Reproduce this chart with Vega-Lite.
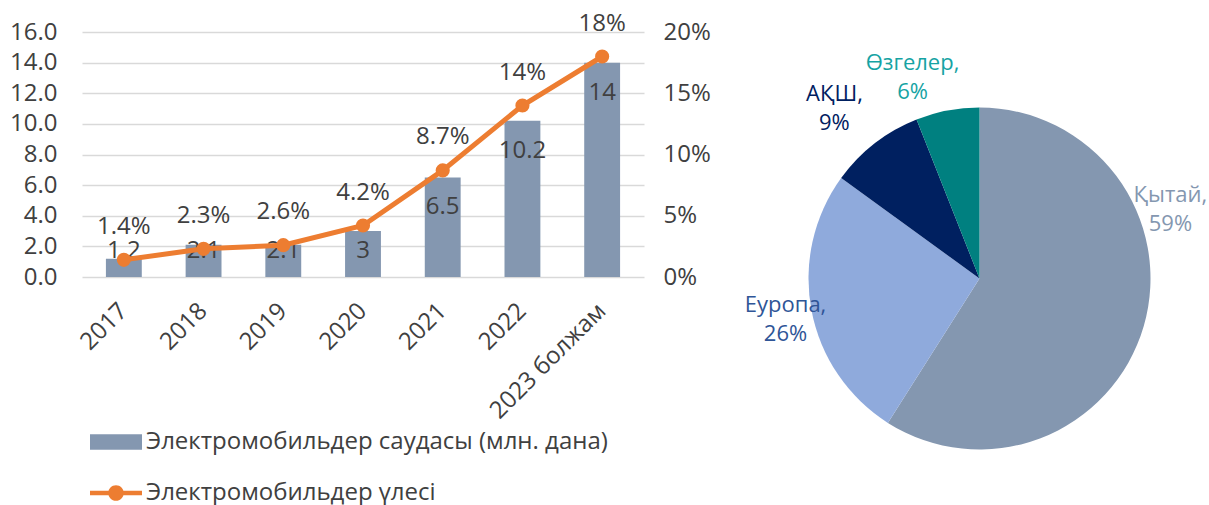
{
  "$schema": "https://vega.github.io/schema/vega-lite/v6.json",
  "background": "white",
  "padding": {"left": 9, "top": 11, "right": 0, "bottom": 0},
  "spacing": 30,
  "center": true,
  "config": {"view": {"stroke": null}, "font": "Open Sans", "axis": {"labelOverlap": false}},
  "resolve": {"scale": {"fill": "independent", "color": "independent"}},
  "hconcat": [
    {
      "width": 562,
      "height": 245,
      "data": {"values": [
        {"year": "2017", "sales": 1.2, "share": 0.014},
        {"year": "2018", "sales": 2.1, "share": 0.023},
        {"year": "2019", "sales": 2.1, "share": 0.026},
        {"year": "2020", "sales": 3, "share": 0.042},
        {"year": "2021", "sales": 6.5, "share": 0.087},
        {"year": "2022", "sales": 10.2, "share": 0.14},
        {"year": "2023 болжам", "sales": 14, "share": 0.18}
      ]},
      "encoding": {
        "x": {
          "field": "year", "type": "nominal", "sort": null,
          "scale": {"paddingInner": 0.55, "paddingOuter": 0.3},
          "axis": {"title": null, "labelAngle": -45, "labelAlign": "right", "labelBaseline": "middle", "labelPadding": 30, "labelFontSize": 24, "labelColor": "#404040", "labelFont": "Open Sans", "labelLimit": 0, "domain": false, "ticks": false, "grid": false}
        }
      },
      "layer": [
        {
          "encoding": {
            "y": {"field": "sales", "type": "quantitative", "scale": {"domain": [0, 16]},
              "axis": {"title": null, "values": [0, 2, 4, 6, 8, 10, 12, 14, 16], "format": ".1f", "labelFontSize": 24, "labelColor": "#404040", "labelFont": "Open Sans", "labelPadding": 25, "labelOverlap": false, "domain": false, "ticks": false, "grid": true, "gridColor": "#D9D9D9", "gridWidth": 1.5}}
          },
          "layer": [
            {
              "mark": {"type": "bar"},
              "encoding": {
                "fill": {
                  "datum": "Электромобильдер саудасы (млн. дана)",
                  "scale": {"domain": ["Электромобильдер саудасы (млн. дана)", "Электромобильдер үлесі"], "range": ["#8497B0", "#ED7D31"]},
                  "legend": {
                    "orient": "none", "legendX": 8, "legendY": 384, "direction": "vertical", "title": null,
                    "symbolSize": 2704, "labelFontSize": 24, "labelColor": "#404040", "labelFont": "Open Sans", "labelLimit": 0,
                    "rowPadding": 13, "symbolStrokeWidth": 0, "labelOffset": 4, "padding": 0, "symbolOpacity": 1,
                    "encode": {"symbols": {"update": {"shape": {"signal": "datum.value === 'Электромобильдер үлесі' ? 'M-1,-0.09L1,-0.09L1,0.09L-1,0.09Z M-0.3,0A0.3,0.3 0 1,1 0.3,0A0.3,0.3 0 1,1 -0.3,0Z' : 'M-1,-0.3L1,-0.3L1,0.3L-1,0.3Z'"}}}}
                  }
                }
              }
            },
            {
              "transform": [{"filter": "datum.sales >= 6"}],
              "mark": {"type": "text", "dy": 30, "fontSize": 24, "color": "#404040", "font": "Open Sans"},
              "encoding": {
                "text": {"field": "sales", "type": "nominal"}
              }
            },
            {
              "transform": [{"filter": "datum.sales < 6"}],
              "mark": {"type": "text", "fontSize": 24, "color": "#404040", "font": "Open Sans", "baseline": "middle"},
              "encoding": {
                "y": {"datum": 1.7, "type": "quantitative", "scale": {"domain": [0, 16]},
                  "axis": {"title": null, "values": [0, 2, 4, 6, 8, 10, 12, 14, 16], "format": ".1f", "labelFontSize": 24, "labelColor": "#404040", "labelFont": "Open Sans", "labelPadding": 25, "labelOverlap": false, "domain": false, "ticks": false, "grid": true, "gridColor": "#D9D9D9", "gridWidth": 1.5}},
                "text": {"field": "sales", "type": "nominal"}
              }
            }
          ]
        },
        {
          "encoding": {
            "y": {"field": "share", "type": "quantitative", "scale": {"domain": [0, 0.2]},
              "axis": {"title": null, "orient": "right", "values": [0, 0.05, 0.1, 0.15, 0.2], "format": ".0%", "labelFontSize": 24, "labelColor": "#404040", "labelFont": "Open Sans", "labelPadding": 19, "labelOverlap": false, "domain": false, "ticks": false, "grid": false}}
          },
          "layer": [
            {
              "mark": {"type": "line", "color": "#ED7D31", "strokeWidth": 5}
            },
            {
              "mark": {"type": "point", "filled": true, "size": 200, "opacity": 1, "strokeWidth": 0, "shape": "circle"},
              "encoding": {
                "fill": {"datum": "Электромобильдер үлесі"}
              }
            },
            {
              "mark": {"type": "text", "dy": -33, "fontSize": 24, "color": "#404040", "font": "Open Sans"},
              "encoding": {
                "text": {"field": "share", "type": "quantitative", "format": ".1~%"}
              }
            }
          ]
        }
      ],
      "resolve": {"scale": {"y": "independent"}}
    },
    {
      "width": 460,
      "height": 460,
      "data": {"values": [
        {"region": "Қытай", "pct": 0.59},
        {"region": "Еуропа", "pct": 0.26},
        {"region": "АҚШ", "pct": 0.09},
        {"region": "Өзгелер", "pct": 0.06}
      ]},
      "transform": [{"calculate": "datum.region + ',\\n' + format(datum.pct, '.0%')", "as": "label"}],
      "layer": [
        {
          "mark": {"type": "arc", "radius": 171, "xOffset": 8.5, "yOffset": 10},
          "encoding": {
            "theta": {"field": "pct", "type": "quantitative", "stack": true},
            "order": {"field": "pct", "sort": "descending"},
            "color": {"field": "region", "type": "nominal",
              "scale": {"domain": ["Қытай", "Еуропа", "АҚШ", "Өзгелер"], "range": ["#8497B0", "#8FAADC", "#002060", "#008080"]},
              "legend": null}
          }
        },
        {
          "transform": [{"filter": "datum.region === 'Қытай'"}],
          "mark": {"type": "text", "theta": 1.224, "radius": 203, "xOffset": 8.5, "yOffset": 10, "dy": -14.5, "fontSize": 22, "lineBreak": "\n", "lineHeight": 29, "font": "Open Sans", "fill": "#8497B0"},
          "encoding": {
            "text": {"field": "label", "type": "nominal"}
          }
        },
        {
          "mark": {"type": "text", "radius": 200, "xOffset": 8.5, "yOffset": 10, "dx": 2.5, "dy": -10.5, "fontSize": 22, "lineBreak": "\n", "lineHeight": 29, "font": "Open Sans", "fill": "#2F5597"},
          "encoding": {
            "theta": {"field": "pct", "type": "quantitative", "stack": true},
            "order": {"field": "pct", "sort": "descending"},
            "text": {"condition": {"test": "datum.region === 'Еуропа'", "field": "label"}, "value": ""}
          }
        },
        {
          "mark": {"type": "text", "radius": 200, "xOffset": 8.5, "yOffset": 10, "dx": -22.5, "dy": -26.5, "fontSize": 22, "lineBreak": "\n", "lineHeight": 29, "font": "Open Sans", "fill": "#002060"},
          "encoding": {
            "theta": {"field": "pct", "type": "quantitative", "stack": true},
            "order": {"field": "pct", "sort": "descending"},
            "text": {"condition": {"test": "datum.region === 'АҚШ'", "field": "label"}, "value": ""}
          }
        },
        {
          "mark": {"type": "text", "radius": 200, "xOffset": 8.5, "yOffset": 10, "dx": -29.5, "dy": -19.5, "fontSize": 22, "lineBreak": "\n", "lineHeight": 29, "font": "Open Sans", "fill": "#16A3A3"},
          "encoding": {
            "theta": {"field": "pct", "type": "quantitative", "stack": true},
            "order": {"field": "pct", "sort": "descending"},
            "text": {"condition": {"test": "datum.region === 'Өзгелер'", "field": "label"}, "value": ""}
          }
        }
      ]
    }
  ]
}
